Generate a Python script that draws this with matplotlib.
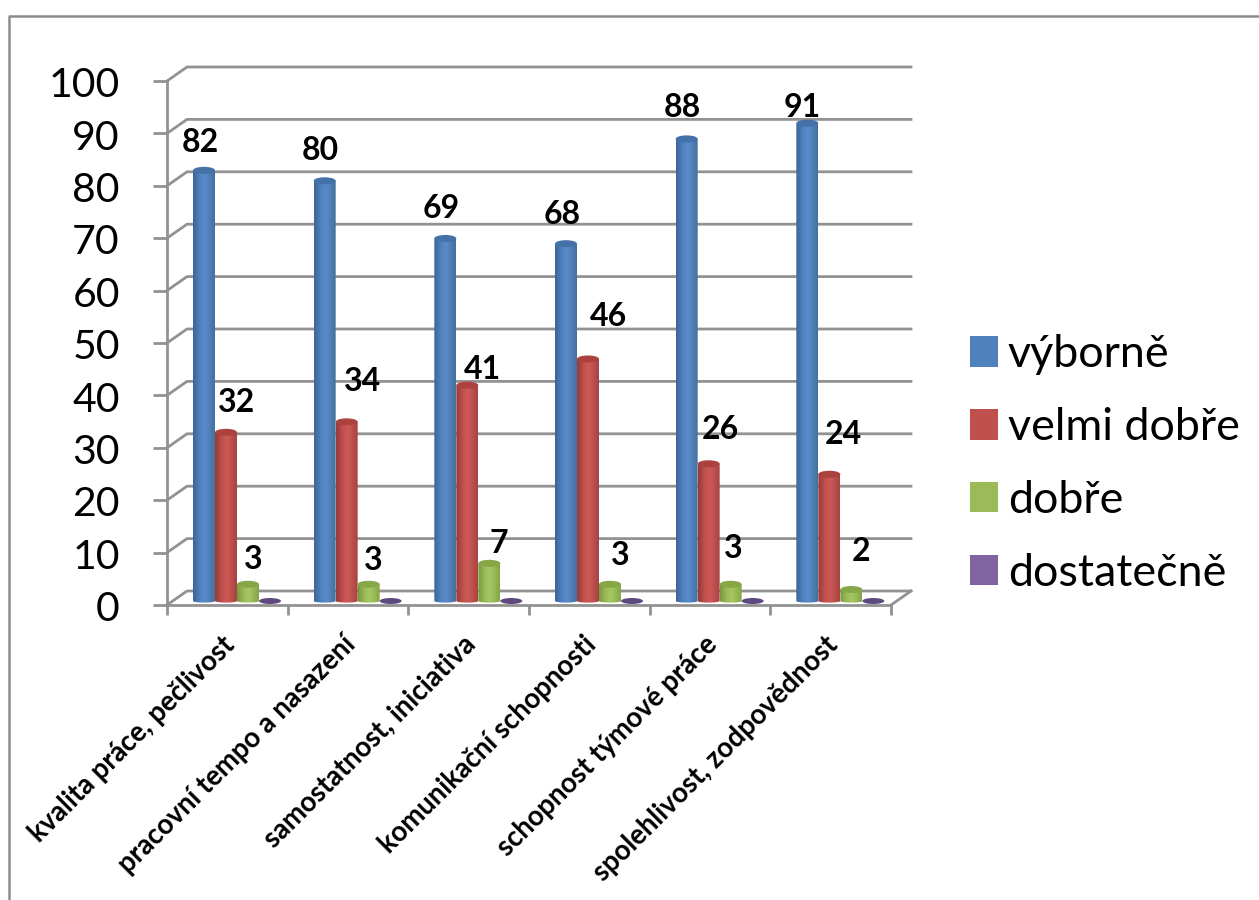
import numpy as np
import matplotlib
matplotlib.use("Agg")
import matplotlib.pyplot as plt
from matplotlib.colors import LinearSegmentedColormap
from matplotlib.lines import Line2D
from matplotlib.patches import Ellipse, Patch, Polygon
from matplotlib.transforms import ScaledTranslation

plt.rcParams["font.family"] = ["Lato", "DejaVu Sans"]

categories = ["kvalita práce, pečlivost", "pracovní tempo a nasazení", "samostatnost, iniciativa",
              "komunikační schopnosti", "schopnost týmové práce", "spolehlivost, zodpovědnost"]
series_names = ["výborně", "velmi dobře", "dobře", "dostatečně"]
vyborne = [82, 80, 69, 68, 88, 91]
velmi_dobre = [32, 34, 41, 46, 26, 24]
dobre = [3, 3, 7, 3, 3, 2]
dostatecne = [0, 0, 0, 0, 0, 0]
series = [vyborne, velmi_dobre, dobre, dostatecne]
y_ticks = list(range(0, 101, 10))

# label shifts from the bar top, in pixels (placed by hand in the original)
label_dx = [[-4, -4, -4, -4, -4, -5], [11, 16, 15, 20, 12, 14], [5, 5, 9, 10, 3, 10]]
label_dy = [[29, 31, 31, 30, 32, 17], [31, 41, 17, 43, 35, 41], [26, 25, 21, 30, 37, 39]]

# shaded colours across each cylinder: edge, light, edge
shades = [("#3d6597", "#4f81bd", "#5a8ccb", "#44709f"),
          ("#963a38", "#c0504d", "#cd5a57", "#a84341"),
          ("#7a973f", "#9bbb59", "#a5c861", "#86a548"),
          ("#5f4a80", "#8064a2", "#8a6db0", "#654e85")]
caps = ["#4472a8", "#ab423f", "#86a648", "#5f4a80"]
legend_colors = ["#4f81bd", "#c0504d", "#9bbb59", "#8064a2"]
grid_color = "#929292"

W, H = 1259, 900
# axes covers the front edge of the 3d box in pixels
left, right, y_zero, y_top = 167, 891, 605, 81
fig = plt.figure(figsize=(W / 100, H / 100), dpi=100, facecolor="white")
ax = fig.add_axes([left / W, 1 - y_zero / H, (right - left) / W, (y_zero - y_top) / H])
ax.set_xlim(0, 6)
ax.set_ylim(0, 100)
ax.set_autoscale_on(False)
ax.patch.set_visible(False)
for s in ax.spines.values():
    s.set_visible(False)

px_x = 6 / (right - left)
px_y = 100 / (y_zero - y_top)
depth_x = 20 * px_x
depth_y = 14 * px_y
lw = 2.0

# box: left wall, back wall, floor
ax.plot([0, 0], [0, 100], color=grid_color, lw=lw, clip_on=False, zorder=1)
ax.plot([0, 6], [0, 0], color=grid_color, lw=lw, clip_on=False, zorder=1)
for v in y_ticks:
    ax.plot([0, depth_x, 6 + depth_x], [v, v + depth_y, v + depth_y],
            color=grid_color, lw=lw, clip_on=False, zorder=1)
ax.plot([6, 6 + depth_x], [0, depth_y], color=grid_color, lw=lw, clip_on=False, zorder=1)

ax.set_yticks(y_ticks)
ax.tick_params(axis="y", length=10, width=lw, color=grid_color, pad=24, labelsize=29.5)
nudge = ScaledTranslation(0, -0.9 / 72, fig.dpi_scale_trans)
for lab in ax.get_yticklabels():
    lab.set_transform(lab.get_transform() + nudge)
ax.set_xticks(range(7))
ax.set_xticklabels([])
ax.tick_params(axis="x", which="major", length=7, width=lw, color=grid_color)
ax.set_xticks(np.arange(6) + 0.5, minor=True)
ax.set_xticklabels(categories, minor=True, rotation=45, ha="right", va="top",
                   rotation_mode="anchor", fontsize=19.8, fontweight="bold")
ax.tick_params(axis="x", which="minor", length=0, pad=19)
shift = ScaledTranslation(-6 * 0.72 / 72, 0, fig.dpi_scale_trans)
for lab in ax.get_xticklabels(minor=True):
    lab.set_transform(lab.get_transform() + shift)

bar_w = 22 * px_x
base = 4 * px_y
cap_h = 7 * px_y
group_start = (193 - left) * px_x


def cylinder(x0, value, k):
    bottom = base
    top = value + base + 1 * px_y
    if value == 0:
        ax.add_patch(Ellipse((x0 + bar_w / 2, bottom), bar_w, 6 * px_y, color=caps[k],
                             lw=0, zorder=3, clip_on=False))
        return
    cmap = LinearSegmentedColormap.from_list("c", list(zip([0, 0.3, 0.55, 1], shades[k])))
    grad = np.linspace(0, 1, 64)[None, :]
    im = ax.imshow(grad, cmap=cmap, aspect="auto", interpolation="bilinear", zorder=3 + k * 0.01,
                   extent=[x0, x0 + bar_w, bottom - 2 * px_y, top], clip_on=True)
    t = np.linspace(np.pi, 2 * np.pi, 30)
    xs = x0 + bar_w / 2 + bar_w / 2 * np.cos(t)
    ys = bottom + 1.6 * px_y * np.sin(t)
    pts = np.column_stack([np.r_[xs, x0 + bar_w, x0], np.r_[ys, top, top]])
    clip = Polygon(pts, transform=ax.transData, fill=False, lw=0)
    ax.add_patch(clip)
    im.set_clip_path(clip)
    ax.add_patch(Ellipse((x0 + bar_w / 2, top), bar_w, cap_h, color=caps[k], lw=0,
                         zorder=3.1 + k * 0.01, clip_on=False))


for k, vals in enumerate(series):
    for i, v in enumerate(vals):
        x0 = i + group_start + k * bar_w
        cylinder(x0, v, k)
        if k < 3:
            ax.annotate(str(v), (x0 + bar_w / 2, v + base), xytext=(label_dx[k][i] * 0.72, label_dy[k][i] * 0.72),
                        textcoords="offset points", ha="center", va="center",
                        fontsize=23, fontweight="bold", color="black", zorder=6, annotation_clip=False)

handles = [Patch(facecolor=c, edgecolor="none") for c in legend_colors]
fig.legend(handles, series_names, loc="center left", bbox_to_anchor=(970 / W, 1 - 464 / H), frameon=False,
           fontsize=32.3, labelspacing=0.71, handlelength=0.62, handleheight=0.67, handletextpad=0.22,
           borderpad=0, borderaxespad=0)

# chart frame, only top and left fall inside the crop
fig.add_artist(Line2D([9 / W, 9 / W, 1], [0, 1 - 16 / H, 1 - 16 / H], color="#8c8c8c", lw=1.8))

fig.savefig("out.png", dpi=100)
